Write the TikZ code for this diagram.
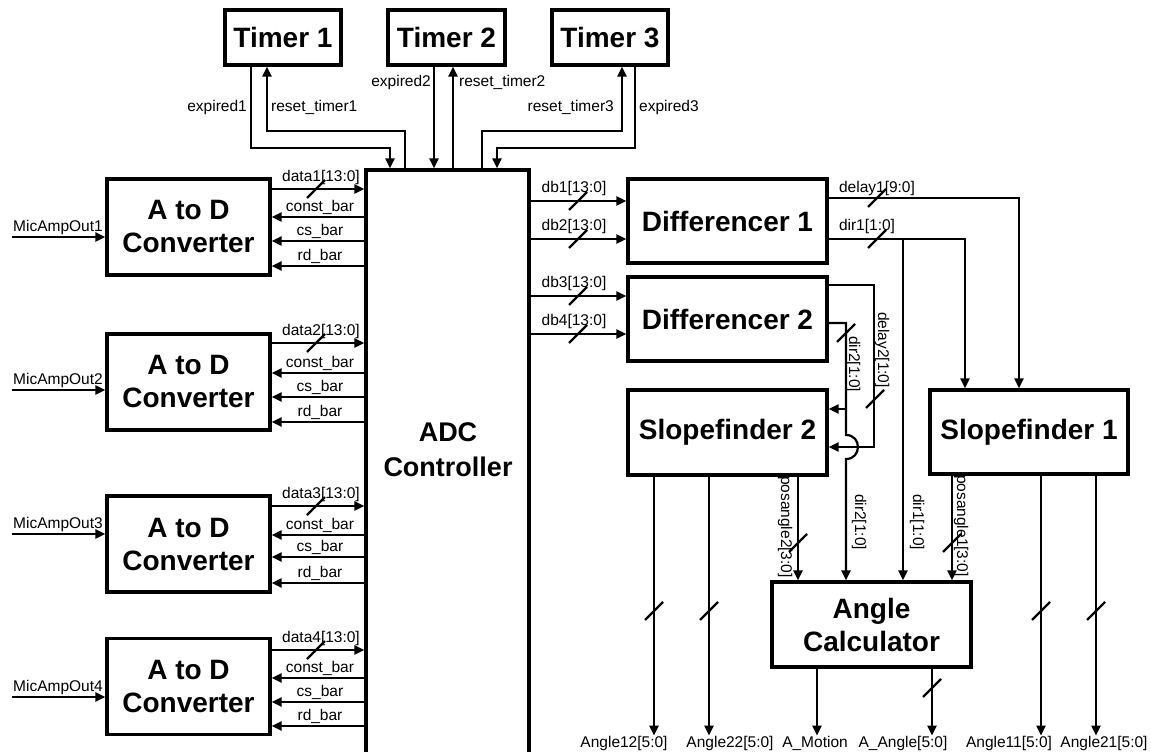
\documentclass[tikz,border=0pt]{standalone}
\usepackage{fontspec}
\setmainfont{Liberation Sans}
\usetikzlibrary{arrows.meta}
\newcommand\busmark[2]{\draw[wire] ({#1-9},{#2+9}) -- ({#1+9},{#2-9});}
\begin{document}
\begin{tikzpicture}[x=1pt,y=-1pt,
  box/.style={draw, line width=3.2pt, inner sep=0pt, align=center, font=\fontsize{28}{33}\selectfont\bfseries},
  wire/.style={line width=2.2pt},
  arr/.style={wire, -{Triangle[length=10pt,width=9pt]}},
  lbl/.style={inner sep=0pt, font=\fontsize{15.5}{18}\selectfont},
  vlbl/.style={lbl, rotate=-90}]
\useasboundingbox (0,0) rectangle (1151,752);
\clip (0,0) rectangle (1151,752);
\fill[white] (0,0) rectangle (1151,752);

% timers
\node[box, minimum width=116, minimum height=55] (t1) at (283,37.5) {Timer 1};
\node[box, minimum width=117, minimum height=55] (t2) at (446.5,37.5) {Timer 2};
\node[box, minimum width=116, minimum height=55] (t3) at (610,37.5) {Timer 3};

% ADC controller
\node[box, minimum width=163, minimum height=620] (adc) at (447.5,480) {};
\node[box, draw=none, font=\fontsize{27}{35}\selectfont\bfseries] (adctext) at (448,450) {ADC\\Controller};

% A to D converters
\foreach \n/\y in {1/227,2/382,3/544,4/686.5}
  \node[box, minimum width=163, minimum height=96] (ad\n) at (188.5,\y) {A to D\\Converter};

% differencers, slopefinders, angle calculator
\node[box, minimum width=199, minimum height=84] (d1) at (727.5,221) {Differencer 1};
\node[box, minimum width=199, minimum height=84] (d2) at (727.5,319) {Differencer 2};
\node[box, minimum width=199, minimum height=85] (sf2) at (727.5,432.5) {Slopefinder 2};
\node[box, minimum width=198, minimum height=84] (sf1) at (1029,432) {Slopefinder 1};
\node[box, minimum width=199, minimum height=85] (ac) at (871.5,624.5) {Angle\\Calculator};

% timer signals
\draw[arr] (t1.south -| 251,0) |- (390,148) -- (adc.north -| 390,0);
\draw[arr] (adc.north -| 405,0) |- (267,131) -- (t1.south -| 267,0);
\draw[arr] (t2.south -| 434,0) -- (adc.north -| 434,0);
\draw[arr] (adc.north -| 453,0) -- (t2.south -| 453,0);
\draw[arr] (adc.north -| 482,0) |- (622,131) -- (t3.south -| 622,0);
\draw[arr] (t3.south -| 635,0) |- (497,148) -- (adc.north -| 497,0);
\node[lbl, anchor=east] (le1) at (247,107) {expired1};
\node[lbl, anchor=west] (lr1) at (271,107) {reset\_timer1};
\node[lbl, anchor=east] (le2) at (431,82) {expired2};
\node[lbl, anchor=west] (lr2) at (459,82) {reset\_timer2};
\node[lbl, anchor=east] (lr3) at (614,107) {reset\_timer3};
\node[lbl, anchor=west] (le3) at (639,107) {expired3};

% A to D signals
\foreach \n/\yd/\yc/\ys/\yr/\ym in {1/189/217/241/266/237, 2/343/373/397/422/390, 3/506/535/557/583/534, 4/650/678/702/726/697}{
  \draw[arr] (ad\n.east |- 0,\yd) -- (adc.west |- 0,\yd);
  \busmark{316}{\yd}
  \node[lbl, anchor=base] (dl\n) at (321,\yd-8) {data\n[13:0]};
  \draw[arr] (adc.west |- 0,\yc) -- (ad\n.east |- 0,\yc);
  \node[lbl, anchor=base] (cl\n) at (320,\yc-6) {const\_bar};
  \draw[arr] (adc.west |- 0,\ys) -- (ad\n.east |- 0,\ys);
  \node[lbl, anchor=base] (sl\n) at (320,\ys-6) {cs\_bar};
  \draw[arr] (adc.west |- 0,\yr) -- (ad\n.east |- 0,\yr);
  \node[lbl, anchor=base] (rl\n) at (320,\yr-6) {rd\_bar};
  \coordinate (mic\n) at (12,\ym);
  \draw[arr] (mic\n) -- (ad\n.west |- 0,\ym);
  \node[lbl, anchor=base] (ml\n) at (58,\ym-6) {MicAmpOut\n};
}

% ADC to differencers
\foreach \n/\y/\d in {1/201/d1, 2/239/d1, 3/296/d2, 4/334/d2}{
  \draw[arr] (adc.east |- 0,\y) -- (\d.west |- 0,\y);
  \busmark{578}{\y}
  \node[lbl, anchor=base] (dbl\n) at (574,\y-9) {db\n[13:0]};
}

% differencer 1 outputs
\draw[arr] (d1.east |- 0,198) -| (sf1.north -| 1019,0);
\draw[arr] (d1.east |- 0,239) -| (sf1.north -| 965,0);
\coordinate (j1) at (903,239);
\draw[arr] (j1) -- (ac.north -| 903,0);
\busmark{877}{198}
\busmark{877}{239}
\node[lbl, anchor=base] (dly1) at (877,192) {delay1[9:0]};
\node[lbl, anchor=base] (dir1a) at (867,230) {dir1[1:0]};

% differencer 2 outputs
\draw[arr] (d2.east |- 0,285) -| (874,447) -- (sf2.east |- 0,447);
\draw[arr] (d2.east |- 0,323) -| (846,435) to[out=0,in=0,looseness=1.7] (846,459) -- (ac.north -| 846,0);
\coordinate (j2) at (846,409);
\draw[arr] (j2) -- (sf2.east |- 0,409);
\busmark{846}{333}
\busmark{875}{399}
\node[vlbl] (dly2) at (882,350) {delay2[1:0]};
\node[vlbl] (dir2a) at (853,364) {dir2[1:0]};

% slopefinder 2 outputs
\node[lbl] (o12) at (624,743) {Angle12[5:0]};
\node[lbl] (o22) at (730,743) {Angle22[5:0]};
\node[lbl] (amot) at (815,743) {A\_Motion};
\node[lbl] (aang) at (903,743) {A\_Angle[5:0]};
\node[lbl] (o11) at (1009,743) {Angle11[5:0]};
\node[lbl] (o21) at (1104,743) {Angle21[5:0]};

\draw[arr] (sf2.south -| 654,0) -- (o12.north -| 654,0);
\draw[arr] (sf2.south -| 709,0) -- (o22.north -| 709,0);
\draw[arr] (sf2.south -| 798,0) -- (ac.north -| 798,0);
\busmark{654}{611}
\busmark{709}{611}
\busmark{798}{543}
\node[vlbl] (pa2) at (785,527) {posangle2[3:0]};
\node[vlbl] (dir2b) at (859,522) {dir2[1:0]};
\node[vlbl] (dir1b) at (917,522) {dir1[1:0]};

% slopefinder 1 outputs
\draw[arr] (sf1.south -| 952,0) -- (ac.north -| 952,0);
\draw[arr] (sf1.south -| 1041,0) -- (o11.north -| 1041,0);
\draw[arr] (sf1.south -| 1096,0) -- (o21.north -| 1096,0);
\busmark{952}{543}
\busmark{1041}{611}
\busmark{1096}{611}
\node[vlbl] (pa1) at (961,526) {posangle1[3:0]};

% angle calculator outputs
\draw[arr] (ac.south -| 817,0) -- (amot.north -| 817,0);
\draw[arr] (ac.south -| 932,0) -- (aang.north -| 932,0);
\busmark{932}{688}
\end{tikzpicture}
\end{document}
